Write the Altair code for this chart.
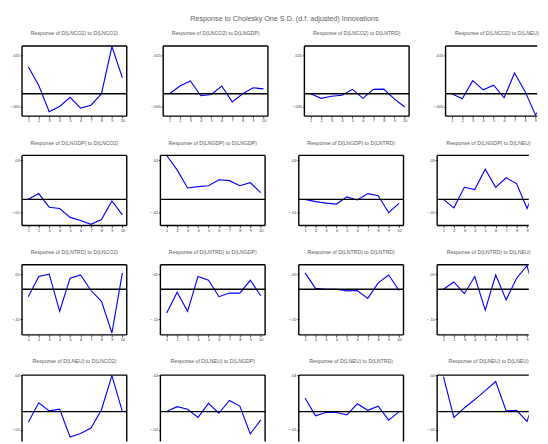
import altair as alt
import pandas as pd

periods = [1, 2, 3, 4, 5, 6, 7, 8, 9, 10]
variables = ["D(LNCO2)", "D(LNGDP)", "D(LNTRD)", "D(LNEU)"]
main_title = "Response to Cholesky One S.D. (d.f. adjusted) Innovations"

# responses of D(LNCO2)
co2_co2 = [.0105, .0032, -.0070, -.0050, -.0014, -.0056, -.0045, .0000, .0184, .0062]
co2_gdp = [.0000, .0030, .0050, -.0008, -.0003, .0030, -.0032, .0000, .0023, .0019]
co2_trd = [.0000, -.0018, -.0010, -.0006, .0017, -.0018, .0017, .0018, -.0020, -.0052]
co2_eu = [.0000, -.0020, .0051, .0015, .0033, -.0016, .0081, .0009, -.0083, -.0025]
# responses of D(LNGDP)
gdp_co2 = [.0000, .0044, -.0060, -.0070, -.0138, -.0162, -.0191, -.0155, -.0012, -.0119]
gdp_gdp = [.0335, .0225, .0087, .0097, .0104, .0150, .0143, .0104, .0128, .0051]
gdp_trd = [.0000, -.0017, -.0029, -.0036, .0019, -.0005, .0044, .0027, -.0102, -.0029]
gdp_eu = [.0000, -.0065, .0092, .0075, .0230, .0092, .0165, .0121, -.0070, .0128]
# responses of D(LNTRD)
trd_co2 = [-.0245, .0425, .0505, -.0730, .0370, .0475, -.0040, -.0400, -.1450, .0545]
trd_gdp = [-.0785, -.0095, -.0730, .0425, .0300, -.0245, -.0125, -.0125, .0300, -.0215]
trd_trd = [.0545, .0030, .0000, .0000, -.0050, -.0040, -.0300, .0215, .0475, -.0040]
trd_eu = [.0000, .0245, -.0145, .0425, -.0690, .0475, -.0350, .0370, .0785, -.0525]
# responses of D(LNEU)
eu_co2 = [-.0118, .0096, .0008, .0026, -.0280, -.0240, -.0180, .0020, .0394, .0000]
eu_gdp = [.0000, .0054, .0026, -.0064, .0090, -.0018, .0122, .0060, -.0244, -.0090]
eu_trd = [.0150, -.0046, -.0010, -.0010, -.0036, .0086, .0014, .0060, -.0094, .0000]
eu_eu = [.0384, -.0064, .0040, .0132, .0230, .0330, .0008, .0014, -.0108, .0240]

responses = [
    [co2_co2, co2_gdp, co2_trd, co2_eu],
    [gdp_co2, gdp_gdp, gdp_trd, gdp_eu],
    [trd_co2, trd_gdp, trd_trd, trd_eu],
    [eu_co2, eu_gdp, eu_trd, eu_eu],
]
# visible y ranges per response row (last row is cut off by the page edge)
row_domains = [[-0.00875, 0.0186], [-0.0200, 0.0336], [-0.1515, 0.0815], [-0.0328, 0.040]]
row_ticks = [[-.005, 0, .005, .010, .015], [-.01, 0, .01, .02, .03],
             [-.10, -.05, 0, .05], [-.02, 0, .02, .04]]
row_fmt = [".3f", ".2f", ".2f", ".2f"]

FONT = "Liberation Sans"
W, H = 112, 75
W_LAST = 98     # last column is cut off by the right page edge
H_LAST = 71     # last row is cut off by the bottom page edge
X_UNIT = 11.18  # pixels per period


def border(x1, x2, y1, y2):
    return alt.Chart(pd.DataFrame({"b": [0]})).mark_rule(color="black", strokeWidth=1.5).encode(
        x=alt.value(x1), x2=alt.value(x2), y=alt.value(y1), y2=alt.value(y2)
    )


def panel(r, c):
    w = W_LAST if c == 3 else W
    h = H_LAST if r == 3 else H
    xmax = 0.4 + w / X_UNIT
    xvals = [p for p in periods if p <= xmax]
    df = pd.DataFrame({"period": periods, "value": responses[r][c]})
    fmt = row_fmt[r]
    if r == 3:
        xaxis = None
    else:
        xaxis = alt.Axis(values=xvals, title=None, minExtent=8, maxExtent=8,
                         labelOverlap=False, labelFlush=False)
    xenc = alt.X("period:Q", scale=alt.Scale(domain=[0.4, xmax], nice=False, zero=False),
                 axis=xaxis)
    yscale = alt.Scale(domain=row_domains[r], nice=False, zero=False)
    line = alt.Chart(df).mark_line(color="#0000ff", strokeWidth=1.2, clip=True).encode(
        x=xenc,
        y=alt.Y("value:Q", scale=yscale,
                axis=alt.Axis(values=row_ticks[r], title=None, minExtent=8, maxExtent=8,
                              labelOverlap=False, labelFlush=False,
                              labelExpr=f"replace(format(datum.value, '{fmt}'), '0.', '.')")),
    )
    zero = alt.Chart(pd.DataFrame({"z": [0.0]})).mark_rule(color="black", strokeWidth=1.5).encode(
        y=alt.Y("z:Q", scale=yscale)
    )
    layers = [line, zero,
              border(0, w, 0, 0),    # top
              border(0, 0, 0, h)]    # left
    if c != 3:
        layers.append(border(w, w, 0, h))   # right
    if r != 3:
        layers.append(border(0, w, h, h))   # bottom
    return alt.layer(*layers).properties(
        width=w, height=h,
        view=alt.ViewBackground(stroke="transparent"),
        title=alt.TitleParams(f"Response of {variables[r]} to {variables[c]}",
                              frame="group", fontSize=5.6, offset=9.3, color="#5a5a5a",
                              font=FONT, fontWeight="normal", dx=6 if c == 3 else 0),
    )


rows = [alt.hconcat(*[panel(r, c) for c in range(4)], spacing=22) for r in range(4)]
chart = alt.vconcat(*rows, spacing=16).properties(
    title=alt.TitleParams(main_title, fontSize=7.7, offset=8.5, anchor="middle", dx=11,
                          color="#606060", font=FONT, fontWeight="normal"),
    padding={"left": 0, "top": -8, "right": 0, "bottom": 0},
).configure_view(stroke="transparent").configure_axis(
    grid=False, domain=False, tickColor="black", tickSize=2, tickWidth=0.8,
    labelFontSize=4.2, labelColor="#333333", labelFont=FONT, labelPadding=1,
)

chart.save("out.html", embed_options={"renderer": "svg", "actions": False})
